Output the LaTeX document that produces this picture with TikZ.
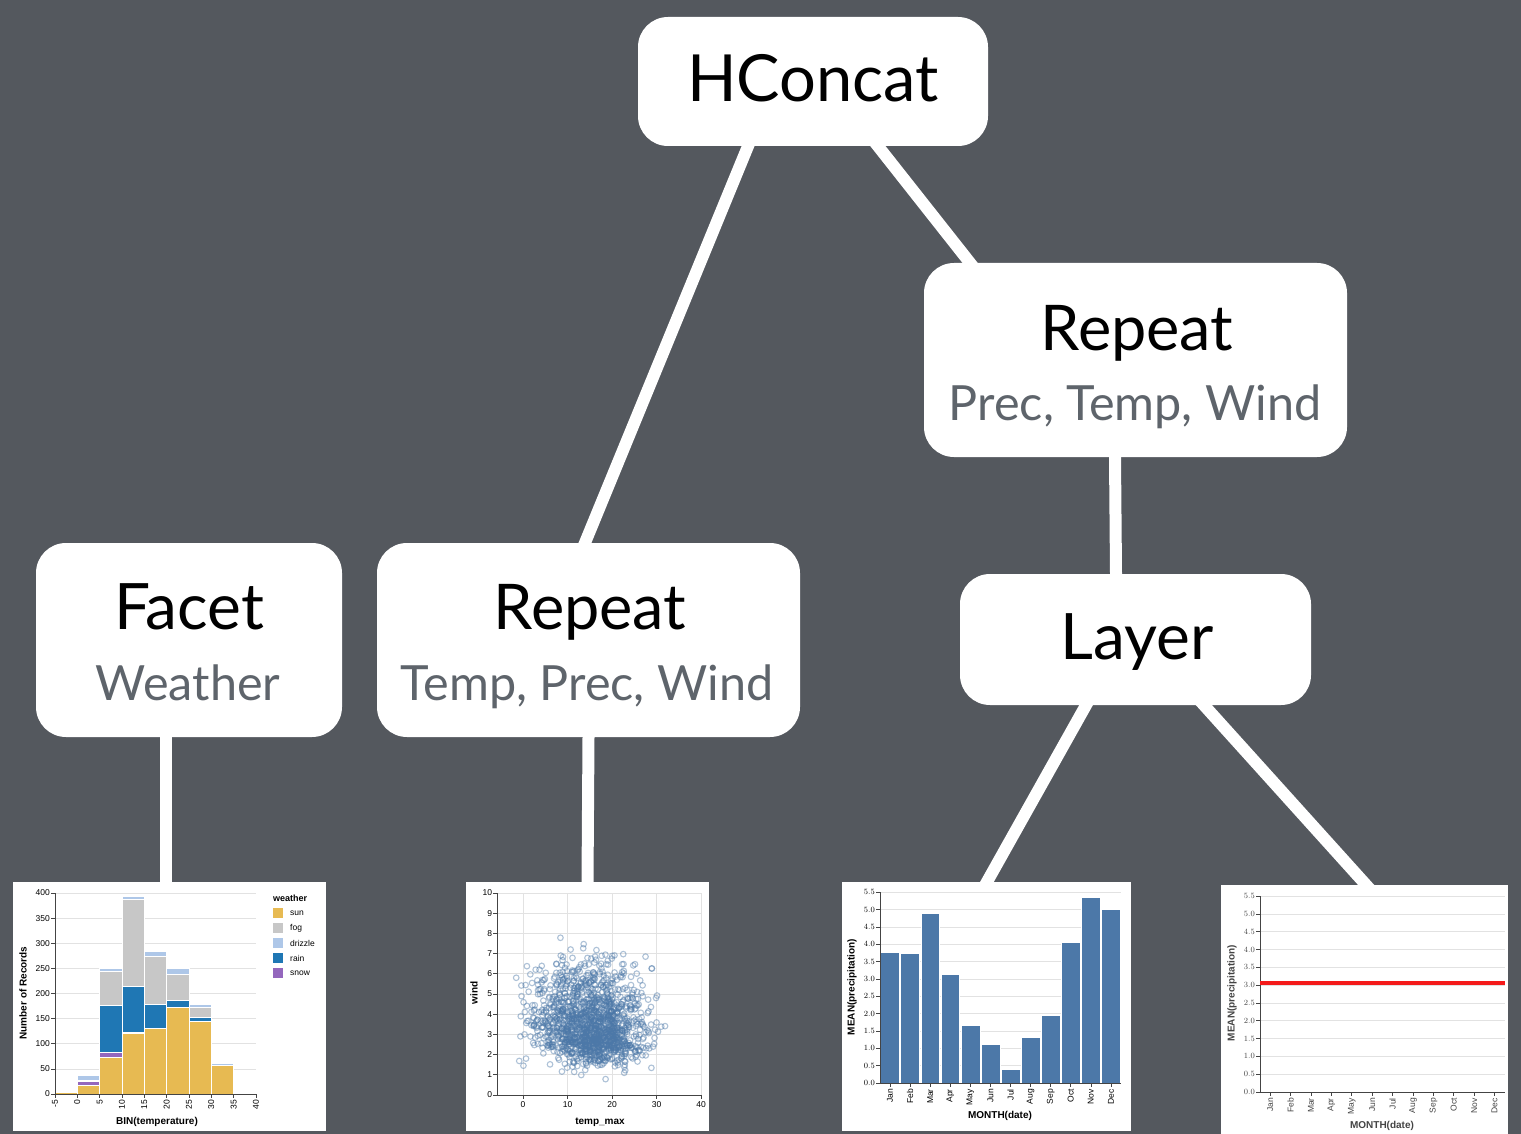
\documentclass[tikz,border=0pt]{standalone}
\usepackage{fontspec}
\setmainfont{Lato}
\newfontfamily\chartfont{Liberation Sans}
\usetikzlibrary{backgrounds}
\definecolor{slate}{HTML}{54585E}
\definecolor{subgray}{HTML}{5E646B}
\definecolor{gridgray}{HTML}{E2E2E2}
\definecolor{axisgray}{HTML}{444444}
\definecolor{sun}{HTML}{E7BA52}
\definecolor{fog}{HTML}{C7C7C7}
\definecolor{drizzle}{HTML}{AEC7E8}
\definecolor{rain}{HTML}{1F77B4}
\definecolor{snow}{HTML}{9467BD}
\definecolor{barblue}{HTML}{4C78A8}
\definecolor{ruled}{HTML}{F41A1A}

\begin{document}
\begin{tikzpicture}[x=1pt,y=-1pt,
    box/.style={fill=white, rounded corners=30pt, inner sep=0pt},
    title/.style={anchor=base, inner sep=0pt, text=black},
    subtitle/.style={anchor=base, inner sep=0pt, text=subgray,
                     font=\fontsize{48.5}{52}\selectfont},
    panel/.style={fill=white, inner sep=0pt},
    link/.style={draw=white, line width=12pt, shorten <=-10pt, shorten >=-10pt},
    grid/.style={draw=gridgray, line width=0.7pt},
    axis/.style={draw=axisgray, line width=0.7pt},
    tick/.style={font=\chartfont\fontsize{8.5}{9}\selectfont, inner sep=1pt},
    axtitle/.style={font=\chartfont\bfseries\fontsize{10}{11}\selectfont, inner sep=0pt},
    bar/.style={draw=white, line width=0.5pt},
    dot/.style={draw=barblue, draw opacity=0.45, line width=1.1pt}
]
\useasboundingbox (0,0) rectangle (1521,1134);

% tree boxes
\node[box, minimum width=350pt, minimum height=129pt] (hconcat) at (813,81.5) {};
\node[box, minimum width=423pt, minimum height=194pt] (rright) at (1135.5,360) {};
\node[box, minimum width=306pt, minimum height=194pt] (facet) at (189,640) {};
\node[box, minimum width=423pt, minimum height=194pt] (rmid) at (588.5,640) {};
\node[box, minimum width=351pt, minimum height=131pt] (layer) at (1135.5,639.5) {};

\node[title, font=\fontsize{65}{70}\selectfont] (hconcat-t) at (813,102) {HConcat};
\node[title, font=\fontsize{63}{68}\selectfont] (rright-t) at (1137,350) {Repeat};
\node[subtitle] (rright-s) at (1135,420) {Prec, Temp, Wind};
\node[title, font=\fontsize{64}{68}\selectfont] (facet-t) at (189,629) {Facet};
\node[subtitle] (facet-s) at (188,700) {Weather};
\node[title, font=\fontsize{63}{68}\selectfont] (rmid-t) at (590,629) {Repeat};
\node[subtitle] (rmid-s) at (587,700) {Temp, Prec, Wind};
\node[title, font=\fontsize{64}{68}\selectfont] (layer-t) at (1137,659) {Layer};

% chart panels
\node[panel, minimum width=313pt, minimum height=249pt] (chist) at (169.5,1006.5) {};
\node[panel, minimum width=243pt, minimum height=249pt] (cscatter) at (587.5,1006.5) {};
\node[panel, minimum width=289pt, minimum height=249pt] (cbars) at (986.5,1006.5) {};
\node[panel, minimum width=287pt, minimum height=249pt] (crule) at (1364.5,1009.5) {};

% connectors
\begin{pgfonlayer}{background}
\fill[slate] (0,0) rectangle (1521,1134);
\draw[link] ([xshift=-65pt]hconcat.south) -- ([xshift=-3.5pt]rmid.north);
\draw[link] ([xshift=65pt]hconcat.south) -- ([xshift=-165.5pt]rright.north);
\draw[link] ([xshift=-20.5pt]rright.south) -- ([xshift=-19.5pt]layer.north);
\draw[link] ([xshift=-23pt]facet.south) -- ([xshift=-3.5pt]chist.north);
\draw[link] (rmid.south) -- (cscatter.north);
\draw[link] ([xshift=-49.5pt]layer.south) -- ([xshift=0.5pt]cbars.north);
\draw[link] ([xshift=68.5pt]layer.south) -- ([xshift=1.5pt]crule.north);
\end{pgfonlayer}

% stacked histogram
\begin{scope}[shift={(77.3,1094)}, x=4.467pt, y=0.5025pt]
  \foreach \v in {0,50,...,400} {
    \draw[grid] (-5,\v) -- (40,\v);
    \draw[axis] (-5,\v) -- ++(-4pt,0pt);
    \node[tick, anchor=east, xshift=-4pt] at (-5,\v) {\v};
  }
  \foreach \x/\lo/\hi/\c in {-5/0/3/sun,
      0/0/17/sun, 0/17/25/snow, 0/25/28/fog, 0/28/38/drizzle,
      5/0/73/sun, 5/73/83/snow, 5/83/177/rain, 5/177/244/fog, 5/244/250/drizzle,
      10/0/121/sun, 10/121/123/snow, 10/123/215/rain, 10/215/388/fog, 10/388/393/drizzle,
      15/0/131/sun, 15/131/179/rain, 15/179/275/fog, 15/275/285/drizzle,
      20/0/173/sun, 20/173/187/rain, 20/187/239/fog, 20/239/250/drizzle,
      25/0/145/sun, 25/145/153/rain, 25/153/173/fog, 25/173/179/drizzle,
      30/0/58/sun, 30/58/61/drizzle,
      35/0/2/rain}
    \draw[bar, fill=\c] (\x,\lo) rectangle (\x+5,\hi);
  \draw[axis] (-5,400) -- (-5,0) -- (40,0);
  \foreach \v in {-5,0,...,40} {
    \draw[axis] (\v,0) -- ++(0pt,-4pt);
    \node[tick, yshift=-5pt, rotate=90, anchor=east] at (\v,0) {\v};
  }
\end{scope}
\node[axtitle] (chist-x) at (157,1122) {BIN(temperature)};
\node[axtitle, rotate=90] (chist-y) at (23,993) {Number of Records};
\node[axtitle, anchor=west, font=\chartfont\bfseries\fontsize{9}{10}\selectfont] (legend) at (273,898) {weather};
\foreach \c [count=\i] in {sun,fog,drizzle,rain,snow} {
  \fill[\c] (273,898+15*\i-5) rectangle ++(10,10);
  \node[tick, anchor=west] at (289,898+15*\i) {\c};
}

% scatter
\begin{scope}[shift={(523,1095)}, x=4.45pt, y=20.2pt]
  \foreach \v in {0,...,10} {
    \draw[grid] (-5.8,\v) -- (40,\v);
    \draw[axis] (-5.8,\v) -- ++(-4pt,0pt);
    \node[tick, anchor=east, xshift=-4pt] at (-5.8,\v) {\v};
  }
  \foreach \v in {0,10,...,40} {
    \draw[grid] (\v,0) -- (\v,10);
    \draw[axis] (\v,0) -- ++(0pt,-4pt);
    \node[tick, anchor=north, yshift=-5pt] at (\v,0) {\v};
  }
  \pgfmathsetseed{11}
  \foreach \i in {1,...,1450} {
    \pgfmathsetmacro\tx{max(-1.6,min(35.5,15+6.3*(rand+rand+rand)))}
    \pgfmathsetmacro\wy{max(0.4,min(9.5,0.3+1.15*(rnd+rnd+rnd+rnd)+3.6*rnd^3+0.05*max(0,18-\tx)*rnd))}
    \draw[dot] (\tx,\wy) circle[radius=2.8pt];
  }
  \draw[axis] (-5.8,10) -- (-5.8,0) -- (40,0);
\end{scope}
\node[axtitle] (cscatter-x) at (600,1122) {temp\_max};
\node[axtitle, rotate=90] (cscatter-y) at (474,993) {wind};

% mean precipitation bars
\begin{scope}[shift={(880,1083)}, x=20.08pt, y=34.7pt]
  \foreach \k in {0,...,11} {
    \pgfmathsetmacro\v{\k/2}
    \draw[grid] (0,\v) -- (12,\v);
    \draw[axis] (0,\v) -- ++(-4pt,0pt);
    \node[tick, anchor=east, xshift=-4pt] at (0,\v)
      {\pgfmathprintnumber[fixed,fixed zerofill,precision=1]{\v}};
  }
  \foreach \m/\h [count=\i from 0] in {Jan/3.76, Feb/3.73, Mar/4.89, Apr/3.13,
      May/1.67, Jun/1.11, Jul/0.39, Aug/1.32, Sep/1.96, Oct/4.06, Nov/5.35, Dec/5.02} {
    \draw[bar, fill=barblue] (\i+0.03,0) rectangle (\i+0.97,\h);
    \draw[axis] (\i+0.5,0) -- ++(0pt,-4pt);
    \node[tick, yshift=-5pt, rotate=90, anchor=east] at (\i+0.5,0) {\m};
  }
  \draw[axis] (0,5.5) -- (0,0) -- (12,0);
\end{scope}
\node[axtitle] (cbars-x) at (1000,1116) {MONTH(date)};
\node[axtitle, rotate=90] (cbars-y) at (852,987) {MEAN(precipitation)};

% mean rule
\begin{scope}[shift={(1260,1092)}, x=20.4pt, y=35.6pt]
  \foreach \k in {0,...,11} {
    \pgfmathsetmacro\v{\k/2}
    \draw[grid] (0,\v) -- (12,\v);
    \draw[axis] (0,\v) -- ++(-4pt,0pt);
    \node[tick, anchor=east, xshift=-4pt, text=axisgray] at (0,\v)
      {\pgfmathprintnumber[fixed,fixed zerofill,precision=1]{\v}};
  }
  \foreach \m [count=\i from 0] in {Jan,Feb,Mar,Apr,May,Jun,Jul,Aug,Sep,Oct,Nov,Dec} {
    \draw[axis] (\i+0.5,0) -- ++(0pt,-4pt);
    \node[tick, yshift=-5pt, rotate=90, anchor=east, text=axisgray] at (\i+0.5,0) {\m};
  }
  \draw[axis] (0,5.5) -- (0,0) -- (12,0);
  \draw[ruled, line width=4pt] (0,3.05) -- (12,3.05);
\end{scope}
\node[axtitle, text=axisgray] (crule-x) at (1382,1126) {MONTH(date)};
\node[axtitle, rotate=90, text=axisgray] (crule-y) at (1232,993) {MEAN(precipitation)};
\end{tikzpicture}
\end{document}
